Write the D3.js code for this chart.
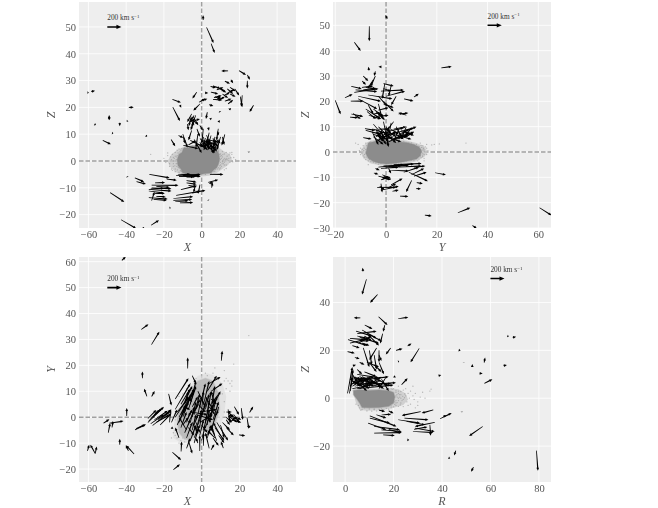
<!DOCTYPE html>
<html>
<head>
<meta charset="utf-8">
<script src="https://cdn.jsdelivr.net/npm/d3@7"></script>
<style>
  html, body { margin: 0; padding: 0; background: #fff; }
  svg { display: block; filter: blur(0.3px); }
  text { font-family: "Liberation Serif", serif; fill: #555; }
</style>
</head>
<body>
<svg id="fig" width="658" height="508"></svg>
<script>
// tick labels
const xTicksXZ = [-60, -40, -20, 0, 20, 40];
const zTicksXZ = [-20, -10, 0, 10, 20, 30, 40, 50];
const yTicksYZ = [-20, 0, 20, 40, 60];
const zTicksYZ = [-30, -20, -10, 0, 10, 20, 30, 40, 50];
const xTicksXY = [-60, -40, -20, 0, 20, 40];
const yTicksXY = [-20, -10, 0, 10, 20, 30, 40, 50, 60];
const rTicksRZ = [0, 20, 40, 60, 80];
const zTicksRZ = [-20, 0, 20, 40];

// velocity arrows: [x tail, y tail, x head, y head]
const arrowsXZ = [
  [0.8,52.6,0.8,54.4],[2.6,49.8,6.3,44],[5,43.8,6.9,40.3],[14,33.6,10.4,33.6],[19.8,33.7,23.5,32.1],[24.2,32.1,25.6,30.3],
  [24.2,29.9,24.2,27],[21.5,24.5,21,20.4],[20.5,24,21.5,20],[27.5,20.8,25.4,18.3],[-2.6,25.7,-4.9,23.3],[-15.5,23,-11,21.8],
  [-11.5,20.8,-10.8,19.9],[-15.3,20.1,-11.5,14.9],[-60.5,25.5,-59.8,25.5],[-58.5,25.9,-56.5,26.2],[-38.6,20,-36,20],
  [-49,17,-49,15.2],[-49,15.5,-49,17],[-56.8,13.7,-56,13.4],[-43.4,14.3,-43.4,13],[-39.2,15,-39.8,14.7],[-47.5,10.4,-46.8,10.3],
  [-29.5,9.5,-28.9,9],[-52.4,7.7,-48.1,6.2],[-39.3,-6,-39.6,-5.7],[-48.5,-11.8,-41,-15.3],[-42.7,-21.9,-34.7,-25.2],
  [-26.8,-24,-22.6,-22.1],[-31,-25,-30.5,-24.7],[-17,-17.5,-16.4,-17.4],[3.5,-14.5,3.7,-14.7],[25,3.4,25,3.2],
  // lower band
  [-27.7,-5,-17,-6.3],[-35.4,-6.3,-30.5,-7.8],[-34.5,-7.7,-29.5,-8.6],[-18.5,-6.8,-13.2,-7.2],[-24.7,-8.2,-19.4,-8],
  [-26.5,-9,-12.3,-9.1],[-26.5,-10,-16,-10.4],[-28,-10.6,-16,-11.2],[-28,-11.2,-20,-12],[-25,-12.2,-19.5,-12],
  [-28,-13.7,-18,-14.2],[-26.5,-14.8,-25,-11.5],[-25.5,-14.3,-18.5,-14.7],[-15,-14,-4.5,-13.3],[-13.5,-12.8,2,-11],
  [-15,-14.7,-5,-14.4],[-14,-15.2,-7,-14.8],[-11.5,-15.6,-4.5,-15.5],[-11,-10.7,-2.5,-9.2],[-8,-7.3,-2.7,-7.9],
  [-8,-8.2,-2.7,-8.7],[-7,-9.1,-2.7,-9.7],[-13.5,-5.4,-0.5,-5],[-12,-5.8,-1,-5.2],[-10,-5.4,-3,-5.9],[-8,-6,-1,-5.5],
  [-12.5,-5.2,-6,-4.9],[-12,-5.6,-4,-6],[-7,-5,-0.5,-5.9],[4.4,-5,11.5,-5],[3.5,-8,8.8,-7],[5.3,-10,5.8,-8],[-0.9,-8.8,-1.8,-12.2],[-3.5,-9.6,-4.3,-11.8],
  [-5,-12,-1,-11.3],[4,-8.4,6.2,-8],[-24,-9.5,-17,-9.8],[-27,-10.4,-20,-10.2],[-24,-13.2,-19,-13.4],
  // upper arc
  [4.7,27.8,7.6,27.3],[1.8,25.4,3.5,25.4],[4.9,25.7,8.8,25],[9.7,26.9,12.3,26],[12.3,29.8,15,28.8],[15.5,30.3,16.7,29],
  [13.6,26.9,16.7,25],[17.6,26.9,19.9,24.4],[6.5,23.6,10.6,24.4],[8.8,22.6,12.3,24],[12.3,22.3,15.8,23.2],[6,23,11,22.7],
  [14,21.3,16.7,22.8],[4,21,6.2,20.5],[0.5,22.6,3,23.2],[-1.4,21.9,1.8,23.2],[15,19.5,15.4,19.1],[14.6,19.2,15.2,19.6],
  [9.7,18.2,9.5,18.6],[-0.9,21.3,-4.4,18.8],[3,18.2,2.3,15.7],[4.7,16,4.9,15.2],[10,27,13,25.5],[8,26.5,11.5,27.5],
  [7,24,10,23],[8,24.2,10.5,23.2],[14,25.5,17,26.5],[15,25,18,24],[6,28,10,27],[11,25,14,23.5],[15,27.5,18,26],[12,24.5,15,25.5],
  // clump around Z = 15
  [-5.3,17.6,-7.6,14.5],[-3.2,17,-5.3,12.6],[-4.4,16.4,-1.8,13.3],[-6,15.7,-3.9,13.3],[-3.5,15.1,-0.9,15.7],[-1,13.3,0.7,11.4],
  [-5.5,16.5,-6.8,13],[-4.5,14,-5.8,11.5],[-7.5,13.8,-7,11.5],[-4,17,-6,15],[-3,14,-5,16],[-6.5,14.5,-4,15.5],
  // clump above the core
  [-5.3,11.4,-7,7.7],[-12.3,9.5,-9.7,8.7],[-9.7,9,-8.8,6.5],[-16.2,8,-14,5.5],[-9.7,5.8,-1.8,4.6],[-6,7.7,1,5.2],
  [0.9,12,0,6.4],[4,10.6,2.6,6.4],[8.8,12,7.9,7.7],[12.3,9.9,10.6,5.8],[7,9,6.2,4],[0.9,7.7,7.9,5.8],[2.6,9.6,6.2,2.8],
  [-0.9,8.4,4.4,4.6],[-4,8,0,3],[5,9.5,3,5],[10,9,8,4],[3,8,9,7],[-2,10,-3,5],[9,8,6,3],[2,6.5,7,3],[-7,6,-3,7.5],
  [-10,10,-7.5,5],[-1,6,5,7.5],[11,9,12,6],[3.5,12.5,3.9,11.3],[9,15,9.6,14.3],[8.5,11,9,9.5],[-2.5,12,-1,9],[6,4.5,7.5,8],
  [1,9,2,5],[0.5,6.5,3,4],[1.5,7.5,5,6.5],[3,7,6,5],[4,8,6,4.5],[5,7,8,6],[2,8.5,4,5.5],[0.5,8,1.5,4.5],[7,7,9,5],[6,6,8,3.5],
  [3,6.5,1,4],[5,6,3,4],[1,5.5,4,7],[-1,7,1,5],[8,8,10,6.5],[6,8.5,7,5.5]
];
const arrowsYZ = [
  [0.5,52.6,-0.3,54],[-6.6,49.6,-6.6,43.7],[-12.5,43.3,-10,39.9],[-6.7,32.2,-7,33.6],[-1.8,33.6,-3,33.6],[21.8,33.2,25.9,33.7],
  [-4.2,31.8,-4.7,30],[-20,20.4,-17.9,14.9],[11,21.7,12.9,23],[7.1,21,10.8,20.1],[4.9,15,8.8,15.4],[8,14.5,4.9,15.5],
  [-16.2,21.4,-13.2,22.8],[-13.7,25.9,-9.6,25],[-12,24.5,-3.5,23.8],[-13.9,20.1,-8.9,20.1],[-14.2,13.8,-11,13.5],[-13.7,15,-9,14],
  [-9,5.7,-5.7,5.1],[-8.3,9.2,-4.3,8.5],[19.3,-8.2,23.6,-9],[28.3,-24,33.2,-22],[15.3,-24.9,18,-25.3],[60.5,-22,65.2,-25],
  [34,-29,35.8,-30.2],[10.1,-11.2,7.9,-15.8],[5.5,-17.4,8.8,-17.6],[11.8,-14.5,13.8,-14.5],[12.1,-12.1,14.5,-12.5],
  // upper group
  [-9,30,-7,28],[-4.2,30,-6,26],[-9.4,28,-7.9,26.5],[-5,28.5,-7.2,25],[-9.5,25.5,-5,26],[-9,24.5,-4,25.2],[-1,27,3,26],
  [-1,25,2,24],[-12.5,23.5,-3,25],[-2,24,7,24.5],[0,22,7.5,24],[-7,22.5,2.5,21],[-11,22,-2,20],[4,22,2,18.5],[2,26,1,22],
  [-0.5,27,-1.5,21],[-3,22,0.5,18],[-11,21,-3.5,17],[-1,20,3,16],[-8,17,-2,13],[-5,17,-1,14],[-7,18.5,-5,15],[-3,19,-1.5,13],
  [-2.5,15,-0.5,12.5],[-4,14,1,14.5],[-7.5,16,-4,13],[-3,16.5,1,17.5],[-13,15.2,-10,13],[-6.8,14.5,-2,13],[-1,19,3,17.5],
  [-8,25.5,-4,25],[-3,15.5,-1,14],[-4,16,-2,14],[-5,15,-2,15.5],
  // clump above the core
  [-8,8.5,-2,7],[-5,11,1,4],[-3,8,0,3],[-5,9,1,7],[-1,12,1,2],[1,10,0.5,2.5],[0,8,7,9.5],[3,12,0,8],[2,11.5,1,6],
  [2,7,11,9.5],[4,5,11,8],[2,5,9,6.5],[5,7,12,10],[3,9,8,10],[-5,6,-1,3],[-3,5,4,8],[0,6,6,4],[-3,10,2,5],[4,10,6,6],
  [-4,4,1,7],[5,9,3,4],[8,10,6,5],[10,9.5,7,5.5],[-1,8,4,3.5],[-5.5,8,-3,2.8],[6,8.5,11,6.5],[3,7,10,5],[1,4,6,6.5],
  [-4,9,-2,5],[-3,7,0,5],[-4,6,-1,8],[-2,6,1,8],[-3,9,1,9],[1,6,4,8],[1,8,4,6],[3,5,7,7],[5,5,9,8],[6,7,9,9],[7,8,10,7],
  [8,6,11,8],[2,9,5,7],[-1,5,3,6],[-2,9,-1,5],[0,10,2,7],[4,7,7,5],[-5,7,-2,6],[-4,8,-1,4],
  // below the core
  [-3,-6,7,-5],[-1,-5.5,6,-5.5],[1,-5.7,11,-4.7],[3,-5,14,-4.5],[5,-6,14,-5.5],[-2,-6.5,5,-6],[11,-6,15.5,-5.5],[0,-6,9,-5.2],
  [9,-8,16.5,-11.5],[7,-8,13,-6],[10,-9,15,-6.5],[11,-9.5,16,-8],[2,-7.2,9,-7.5],[-4.2,-6.5,-2.5,-7.2],[-4.8,-8.3,-3,-8.8],
  [-3,-9.5,0.5,-10.5],[-1.5,-10,2,-11],[-2,-11,1,-10],[-1.5,-9,2,-10.5],[-1.5,-10.8,1,-9.5],[-1,-9.5,1.5,-11],[2,-13,6.5,-10.5],[1,-14,4,-12.5],[-3.5,-14,4,-14],
  [-1.5,-15,5,-13.5],[-2,-12.5,-1.5,-16],[-2.5,-13.5,-0.5,-15],[2.5,-15.5,5,-15],[1,-6.5,2,-8.5]
];
const arrowsXY = [
  [-42.3,60.5,-40.2,61.9],[-32,33.8,-28.2,35.9],[-26.6,28,-22.4,33],[-31.4,15,-31.4,17.6],[-29,8,-30.5,11],[-26.5,8,-24.9,10.1],
  [-39.7,0.5,-39.7,3.5],[-7.4,18.8,-7.4,23],[10.4,21.8,10.9,25.6],[-52,-2.3,-48.9,-0.8],[-48.9,-2.3,-41.4,-1.5],
  [-49.5,-6,-48.5,-2.3],[-47.5,-4,-47,-1.5],[-43.4,-10.6,-43.4,-8.3],[-35.8,-14.2,-40,-10.9],[-38.8,-13,-40.2,-10.8],
  [-60.5,-13,-59.6,-10.6],[-56.4,-14,-59,-10.6],[-56.4,-14,-55.6,-11.3],[-35.3,-4.9,-29.5,-2.7],[-34.8,-4.4,-30,-2.9],
  [-15.5,-13.5,-10.9,-16.5],[-15,-20.3,-11.5,-18.2],[-10.9,-13.2,-10.6,-9.4],[5,-12.6,6.7,-10.4],[11.5,-11.9,10.2,-9.4],
  [19.8,-6.8,23.1,-7.2],[25.4,1.8,27.3,4.1],[24,0,25,-4.5],[25.5,-4,24.5,-3],[17.3,4.1,19.8,0.9],[21,3.5,21.8,-1],
  // left wing
  [-28.5,-2,-20,4],[-28,-1.5,-23,2.5],[-28.5,-0.5,-24,2.8],[-26,-3.2,-17,2],[-25,-1,-18,2.5],[-22,-3,-16,1.5],[-26,0,-21,3.5],
  [-17,-2,-16.5,3],[-17.5,9,-16,4.5],[-16,-4,-15,-4.5],[-24,-2,-17,1],[-21,0,-16,3],[-27,-2.5,-20,1],[-23,-1,-16,2.8],[-25,1,-22,3],
  // central mass
  [-14,7,-7,15],[-14,3,-6,13],[-10,2,-4,10],[-14,0,-7,8],[-13,2,-5,9],[-12,0,-4,11],[-11,5,-6,11],[-12,-2,-8,5],[-10,0,-6,8],
  [-9,6,-5,12],[-7,3,-3,12],[-7,-2,-2,5],[-8,-8,-5,-2],[-11,-4,-8,2],[-13,-3,-9,3],[-6,5,-3,14],[-5,16,-3,13],[-2,-3,2,5],
  [-3,-5,0,3],[-4,1,-1,9],[-1,4,2,13],[0,0,3,8],[2,-2,4,6],[3,1,5,10],[1,5,4,14],[4,-2,7,7],[5,3,7,12],[3,10,8,16],[4,13,10,15.5],
  [5,10,11,13],[5,3,10,10],[6,-1,9,6],[2,-4,5,2],[-6,-9,-3,-3],[-4,-10,-2,-5],[-9,-6,-6,-1],[-5,-5,-3,1],[0,-9,2,-3],[-1,-7,1,-1],
  [3,-8,5,-3],[-1,-13,-1,-7],[1,-11,1,-6],[-2,-10,-3,-8],[-8,-12,-6,-8],[-7,-9,-5,-14],[-4,-8,-1,-3],[7,-7,5,-3],[4,-12,2,-6],
  [8,-9,5,-4],[10,-7,6,-2],[6,-8,9,-11],[7,-4,12,-9],[8,-2,14,-9],[-16,-2,-13,3],[-12,-8,-14,-4],[-8,-5,-12,0],[7,-8,3,-5],
  [-1,2,8,3],[-3,1,6,-1],[-6,2,3,1],[-1,-2,6,1],[5,-5,8,2],[2,8,6,3],[9,4,8,1],[-2,10,2,4],[9,9,5,5],[-5,-2,-2,-6],
  [-10,4,-6,3],[-8,8,-5,6],[-9,2,-7,6],[-6,-2,-4,4],[-5,0,-3,6],[-3,3,-1,7],[-1,-4,0,2],[1,-5,3,1],[3,-3,4,3],[5,0,6,5],[6,2,8,8],
  [7,5,5,10],[2,3,4,9],[0,3,1,10],[-2,1,0,8],[-7,0,-5,3],[-4,-3,-2,1],[-8,-2,-6,2],[-10,-3,-7,0],[-11,1,-8,5],[0,-3,3,-6],[2,1,5,-2],
  [4,4,7,1],[-2,5,2,2],[5,7,8,5],[-3,-2,-1,-6],[-7,-4,-4,-7],[-5,4,-2,8],[-9,5,-7,10],[6,-3,3,-7],
  // right group
  [9,-7,12,-10],[10,-3,12,-8],[11,-2,15,-5],[13,-4,17,-7],[13,0,16,-2],[14,3,15,-2],[14,2,17,0],[15,1,19,-1],[16,-1,21,-2],[15,0,19,-2],
  [14,0,16,1],[13,2,16,2],[18,0,21,-1],[14,-1,17,1],[15,-2,18,0],[13,-1,15,-3],[17,1,20,-2]
];
const arrowsRZ = [
  [7.4,53,7.2,54.5],[8.8,49.7,7,43.3],[13.4,43.3,10.3,39.9],[6.3,33.6,3.6,33.6],[13.8,34,17.5,30.6],[21.9,33.2,26.1,33.8],
  [16.4,30.6,15.7,27.8],[15.5,27,14.5,22.9],[8.1,30.6,11.3,28.9],[18.8,21,16.8,18.3],[21,20,23.7,20.7],[25.8,21.8,27.4,22.9],
  [30.6,20.8,27,15],[21.9,15.3,22.3,15.5],[67,26,67.6,25.8],[69.2,25.4,70.6,25.7],[46.9,20.1,47.7,19.9],[49,14.9,49,15],
  [52.5,13,52.5,14.3],[57.4,14.9,57.8,17],[55.5,10.4,56.8,10.3],[65.4,13.6,66.8,13.9],[38.6,9.4,39.7,9.7],[57.5,6.2,60.8,7.9],
  [23.3,5.6,25.8,8.3],[20.4,8.7,20.4,9.6],[48.2,-5.7,48.2,-5.9],[39.2,-8.6,44,-6.2],[40.5,-7.6,42,-7.2],[56.8,-11.8,51.2,-15.8],
  [45.7,-21.9,45,-23.9],[42.7,-24.9,43.4,-25.2],[53,-28.8,52,-30.7],[79,-21.9,79.6,-30.3],[25.7,-17.4,26.5,-17.5],
  // lower band
  [36.4,-4.9,31.6,-6.2],[31.2,-5.6,23.4,-7.2],[37,-10.1,28.8,-11.8],[21.9,-9,30.9,-10.4],[24.5,-8.3,34.4,-9],[25.4,-9.7,33,-11.1],
  [28.8,-12.5,37,-13.9],[28,-13.9,36.4,-14.3],[35,-11.1,35.3,-15.7],[28.5,-13,34,-12],[10.2,-7.4,21.2,-11.8],[9.5,-10.4,17,-13.2],
  [10.2,-8.3,18.5,-10.4],[12.9,-6.9,17,-8.3],[12,-11.8,22.6,-13.2],[15,-13.2,23.4,-13.9],[12,-14.6,23.4,-14.3],[15.7,-15.3,20.5,-15.6],
  [18,-13,23,-14.5],[15,-7,19,-6.7],[14,-5,16.5,-5.5],[18,-5.3,20,-6.3],
  // main clump
  [1,2,3,13],[1.8,2,3.3,12],[2.2,3,3,9],[2,8,11,8.5],[3,6,12,9],[4,5,12,7],[3,9,8,7],[5,10,14,8.5],[3,7,18,9],[5,4,20,5.5],
  [6,6,19,6],[7,9,15,5],[9,5,15,9],[4,8,10,4],[10,8,16,4],[6,8,13,6],[3,4,11,5.5],[8,11,13,9],[12,9,18,5],[13,6,21,6.5],
  [2,5,6,9],[5,7,9,3],[3,10,6,5],[15,8,18,3],[17,9,14,4],
  [3,7,7,5],[4,9,8,6],[5,5,9,8],[6,9,10,7],[7,5,11,7],[8,7,12,5],[9,9,13,6],[10,6,14,7],[11,5,15,6],[3,5,6,7],[4,6,7,8],[6,4,10,6],[7,8,11,6],[12,8,15,7],[2,8,5,6],
  // upper clump
  [4.5,28,11,26],[5,27,13,28],[1.2,24.5,9,22],[2,23,10,25],[2,25,8,24.5],[6,25.5,14,23],[7,28.5,13,25],[9,27,14,22],[5.5,23,11,26],
  [1,19.5,4,18.8],[4,17,6,16.5],[3.2,13.5,4.5,14],[7.5,21,10,13],[10,20,11,14],[9,15,14,13],[12,18,13,12],[14,18,15,15.5],[14,20,14,15],
  [13,21,10,16],[10,15,13,11],[12,14,15,11],[14,15,16,10],[6,15,8,14],[5,12,7,10],[11,26,15,24],[3,22,6,21],
  [5,26,9,25],[6,24,10,24],[8,26,11,24],[7,23,10,22]
];

// dense grey core, outline: x values then y values
const coreXZx = [-13, -12, -10.5, -9.5, -7, -5, -2, 1, 4, 6, 8, 9, 9.5, 9, 8, 6.5, 5, 2, -1, -4, -7, -10, -11, -12.5];
const coreXZy = [0.5, 2.5, 3.2, 4.8, 5, 5.6, 5.5, 6, 5.5, 5, 4, 3, 1, -1, -2.5, -3.3, -4.5, -4.7, -5, -5.2, -5, -4.5, -3, -1.8];
const coreYZx = [-7.5, -7, -5, -2, 1, 4, 8, 11, 13, 14, 13.5, 12, 9, 6, 3, 0, -3, -5, -7, -8];
const coreYZy = [1.5, 3.5, 4, 4.7, 4.5, 4, 3.7, 3, 2, 0.5, -1.5, -2.8, -3.5, -4, -4.5, -4.7, -4.3, -3.8, -2.5, -0.5];
const coreXYx = [-13, -12, -9, -5, -2, 2, 6, 9, 9.5, 7, 4, 0, -3, -6, -9, -12];
const coreXYy = [-1, 2, 7, 11, 14, 15, 14, 9, 3, -3, -5, -5, -6.5, -8.5, -8.5, -6];
const coreRZx = [3.5, 6, 10, 14, 18, 20, 20.5, 20, 18, 14, 10, 7, 6, 5, 3.5];
const coreRZy = [3.2, 3.5, 3.2, 3.4, 3.1, 2.4, 0.5, -2, -3.4, -3.9, -4, -3.9, -2, -0.5, 1.5];

// thinner grey halo round each core
const haloXZx = [-18, -16, -14, -12, -9, -5, 0, 5, 9, 12, 15, 16, 14, 11, 8, 4, 0, -5, -10, -14, -17];
const haloXZy = [0, 2.5, 3.5, 4.5, 5.5, 6, 6, 6, 5, 3.5, 2.5, 0.5, -1.5, -3, -4.5, -5.5, -5.8, -5.8, -5.5, -4, -2];
const haloYZx = [-10, -8, -6, -2, 3, 8, 12, 15, 16.5, 15, 12, 8, 3, -2, -6, -9];
const haloYZy = [0.5, 3.5, 4.5, 5.3, 5.2, 4.5, 3.5, 2.3, 0, -2, -3.7, -4.6, -5.2, -5.3, -4.5, -2.5];
const haloXYx = [-15, -14, -10, -6, -2, 3, 7, 11, 13, 12, 9, 5, 0, -4, -8, -12, -15];
const haloXYy = [-5, 1, 8, 12, 16, 17, 16, 13, 8, 1, -5, -7, -7, -9, -10, -9.5, -8];
const haloRZx = [3, 6, 12, 18, 22, 25, 26, 24, 20, 15, 9, 6, 4.5];
const haloRZy = [3.5, 4.2, 4, 4.2, 3.8, 2, -0.5, -2.8, -4, -5, -5.2, -4.8, -2];

// loose grey dots round the core
const dotsXZ = [[-18,2],[-17,-1],[-16,0.5],[-15.5,2.5],[-15,-2],[-14.5,1],[-14,-3],[-14,3.2],[-13.5,-1],[-16,-3],[-18,3],[-20,1],[-27,2.5],
  [-19,-0.5],[-13,4],[-12,4.5],[-11,-3.8],[-12,-4.2],[-10,-5],[-9,5],[-7,-4.8],[-5,5.5],[-4,-5],[-1,5.5],[2,-5],[5,-4.6],[6,5],[7,-3.8],
  [8,4.6],[9,3.5],[9.5,-3],[10,2.6],[10.5,-2],[11,1.5],[11.5,-1],[12,2.6],[12.5,0.5],[13,-1.5],[13.5,1.8],[14,0.2],[14.5,2.3],[15,-0.5],
  [15.5,1.2],[16,2.5],[16.5,-0.3],[17,1.3],[18,0.5],[15,3],[11,3.5],[13,-2.8],[12,-3.3],[-17,-2],[-15.5,-3.5],[-14,-4],[16,3.2],[13,3.2],
  [-13,2],[-15,0],[-16.5,1.5],[10,-2.6],[10,0.5],[11,0],[12,1],[9.5,0.8],
  [-13.5,0.5],[-13,-1],[-13.4,1.5],[-12.5,3],[-11.5,3.4],[-11,4],[-10.5,4.6],[-12.4,-2.5],[-11.6,-2.6],[-11.3,-3.5],[-10.6,-3.8],[-10.5,-4.8],
  [-13.2,-2],[-14,0],[-14,1.8],[-15,1.3],[-12.8,-3.3],[-15,-1],[-14.2,-1.8],[10,-0.5],[10.5,1],[10,1.8],[10.8,-1],[10.5,2],[11,-0.3],[10,-1.5],
  [9.5,-1.8],[9.5,2.5],[11.5,0.5],[12,-0.5],[12,-1.5],[11.2,2.4],[9,-2.5],[8.5,-3],[7.5,-3.2],[6.5,-4],[13,0.5],[13,1],[13.6,0.7],[14.4,1],[9,4],[7,4.8]];
const dotsYZ = [[-11,3],[-10,1.5],[-9.5,-0.5],[-9,2.5],[-8.5,-2],[-8,3.5],[-8,-3],[-7,-3.5],[-6,4],[-5,-4],[-3,-4.8],[-1,5],[1,-4.5],[3,4.8],
  [4,-4.4],[6,4],[7,-3.8],[9,3.6],[10,-3.2],[11,2.8],[12,-2.5],[13,2.3],[13.5,-1.5],[14,1.8],[14.5,-0.5],[15,0.8],[15.5,2],[16,-1],[13.5,3.5],
  [14.5,2.5],[16,3],[18,2.8],[19,3],[21,3.2],[31.5,3.5],[15,-2.5],[12.5,-3.5],[-10,-1],[-10.5,0.5],[-12,3.5],[-7,-5],[-8,1],[15,-3.5],[14,0],
  [15,0.3],[13.5,1],[12,-1.5],
  [-8.8,0.5],[-8.6,1.5],[-8.5,-1],[-9,-1.5],[-7.6,2.5],[-7.8,-2],[-9.4,1],[-6.5,3.8],[-6.5,-3],[-6,-3.8],[-4,-4.4],[-2,-4.6],[2,-4.8],[5,-4.4],[8,-3.6],
  [14.5,0.8],[14.8,1.3],[15,-1],[14.4,-1.2],[13.8,-2.2],[14.4,-1.8],[13,-2.8],[11,-3.4],[12,3],[10,3.6],[7,4.2],[5,4.4],[13.8,2.6],[14.6,1.6],[16.5,0.5],[16,1.5]];
const dotsXY = [[-16,-8],[-15,-6],[-14,-5],[-13,-8],[-11,-9],[-9,-9.5],[-14,-1],[-12,8],[-10,9],[-8,11],[-6,13],[-3,15],[0,16],[2,17],[3,16],
  [6,17],[7,15],[9,15],[10,13],[12,14],[13,15],[14,14],[15,13],[16,12],[16,14],[15,10],[17,20.5],[12,18],[7,19],[25,31.5],[13,11],[11,9],[12,6],
  [12,2],[-14,-7],[-12,-10],[-10,-8],[-7,-10]];
const dotsRZ = [[20,4],[21,2.5],[21.5,0.5],[22,-1],[22,3],[23,-2],[23,1.5],[24,-0.5],[24,3.4],[25,1],[25.5,-1.5],[26,2],[26.5,0],[27,-2.5],[27,3],
  [28,1],[28.5,-0.5],[29,2],[30,-1.5],[31,0.5],[32,2.5],[35,3],[35.5,3.8],[30,-3],[26,-3],[24,-3.5],[22,-3.4],[21,-3],[19,-4],[17,-4.2],[15,-4.5],
  [12,-4.5],[10,-4.5],[8,-4],[6,-4],[5.5,-3],[4.5,-2.5],[19,4],[22,5],[25,4],[28,5],[29,-4],[33,0],[20.5,-1.5],[20.5,0.5],[21,1],[22.5,0.5],[23.5,-1],
  [21,-1],[21.4,1.5],[21,-2],[20.5,-2.6],[21.5,-1.8],[22,0],[22.4,1.5],[23,0],[22,2],[21,3.2],[19.5,3.8],[18,3.8],[16,4],[14,4],[12,-4.8],[14,-4.6],[16,-4.8],
  [18,-4.6],[20,-3.6],[19,-3.2],[9,-5.3],[11,-5.4],[13,-5.3],[7,-4.8],[6.5,-5],[23.8,0.8],[24.5,0.2],[24.6,1.8],[23,2.8],[22.8,-2.8]];

const panels = [
  { arrows: arrowsXZ, coreX: coreXZx, coreY: coreXZy, haloX: haloXZx, haloY: haloXZy, dots: dotsXZ, xDomain: [-65, 50], yDomain: [-25, 59.3], xTicks: xTicksXZ, yTicks: zTicksXZ,
    xLabel: "X", yLabel: "Z", left: 79, right: 296, top: 2, bottom: 228, key: [-50, 50, -42.5, 50], zero: true, coreFill: "#8c8c8c", haloFill: "#c6c6c6" },
  { arrows: arrowsYZ, coreX: coreYZx, coreY: coreYZy, haloX: haloYZx, haloY: haloYZy, dots: dotsYZ, xDomain: [-20.9, 65], yDomain: [-30, 59.2], xTicks: yTicksYZ, yTicks: zTicksYZ,
    xLabel: "Y", yLabel: "Z", left: 333, right: 551, top: 2, bottom: 228, key: [40, 50, 45.6, 50], zero: true, coreFill: "#8c8c8c", haloFill: "#c6c6c6" },
  { arrows: arrowsXY, coreX: coreXYx, coreY: coreXYy, haloX: haloXYx, haloY: haloXYy, dots: dotsXY, xDomain: [-65, 50], yDomain: [-25, 61.8], xTicks: xTicksXY, yTicks: yTicksXY,
    xLabel: "X", yLabel: "Y", left: 79, right: 296, top: 257, bottom: 482, key: [-50, 50, -42.5, 50], zero: true, coreFill: "#bcbcbc", haloFill: "#dedede" },
  { arrows: arrowsRZ, coreX: coreRZx, coreY: coreRZy, haloX: haloRZx, haloY: haloRZy, dots: dotsRZ, xDomain: [-5, 85], yDomain: [-35, 59], xTicks: rTicksRZ, yTicks: zTicksRZ,
    xLabel: "R", yLabel: "Z", left: 333, right: 551, top: 257, bottom: 482, key: [60, 50, 65.8, 50], zero: false, coreFill: "#8c8c8c", haloFill: "#c6c6c6" }
];

const svg = d3.select("#fig");

// tapered arrow outline in pixels, like a quiver glyph
function arrowPath(x0, y0, x1, y1, wTail, w, headLen, headW) {
  const dx = x1 - x0, dy = y1 - y0;
  const len = Math.hypot(dx, dy) || 1;
  const ux = dx / len, uy = dy / len;
  const nx = -uy, ny = ux;
  const hl = Math.min(headLen, len);
  const bx = x1 - ux * hl, by = y1 - uy * hl;
  const p = [
    [x0 + nx * wTail / 2, y0 + ny * wTail / 2], [bx + nx * w / 2, by + ny * w / 2], [bx + nx * headW / 2, by + ny * headW / 2],
    [x1, y1],
    [bx - nx * headW / 2, by - ny * headW / 2], [bx - nx * w / 2, by - ny * w / 2], [x0 - nx * wTail / 2, y0 - ny * wTail / 2]
  ];
  return d3.line()(p) + "Z";
}

panels.forEach((p, i) => {
  const x = d3.scaleLinear().domain(p.xDomain).range([p.left, p.right]);
  const y = d3.scaleLinear().domain(p.yDomain).range([p.bottom, p.top]);

  svg.append("clipPath").attr("id", "clip" + i).append("rect")
    .attr("x", p.left).attr("y", p.top).attr("width", p.right - p.left).attr("height", p.bottom - p.top);

  svg.append("rect")
    .attr("x", p.left).attr("y", p.top).attr("width", p.right - p.left).attr("height", p.bottom - p.top)
    .attr("fill", "#eeeeee");

  // grid
  svg.append("g").selectAll("line").data(p.xTicks).enter().append("line")
    .attr("x1", d => x(d)).attr("x2", d => x(d)).attr("y1", p.top).attr("y2", p.bottom)
    .attr("stroke", "#fff").attr("stroke-width", 0.8);
  svg.append("g").selectAll("line").data(p.yTicks).enter().append("line")
    .attr("x1", p.left).attr("x2", p.right).attr("y1", d => y(d)).attr("y2", d => y(d))
    .attr("stroke", "#fff").attr("stroke-width", 0.8);

  const plot = svg.append("g").attr("clip-path", "url(#clip" + i + ")");

  // zero lines, the R-Z panel has none
  if (p.zero) {
    plot.append("line").attr("x1", p.left).attr("x2", p.right).attr("y1", y(0)).attr("y2", y(0))
      .attr("stroke", "#a0a0a0").attr("stroke-width", 1.4).attr("stroke-dasharray", "4.5,2");
    plot.append("line").attr("x1", x(0)).attr("x2", x(0)).attr("y1", p.top).attr("y2", p.bottom)
      .attr("stroke", i === 1 ? "#777" : "#a0a0a0").attr("stroke-width", i === 1 ? 1 : 1.4).attr("stroke-dasharray", "4.5,2");
  }

  // grey stars
  const blob = d3.line().curve(d3.curveLinearClosed).x(d => x(d[0])).y(d => y(d[1]));
  plot.append("path").attr("d", blob(d3.zip(p.haloX, p.haloY)))
    .attr("fill", p.haloFill).attr("fill-opacity", 0.75);
  plot.append("g").selectAll("circle").data(p.dots).enter().append("circle")
    .attr("cx", d => x(d[0])).attr("cy", d => y(d[1])).attr("r", 0.65)
    .attr("fill", "#9a9a9a").attr("fill-opacity", 0.7);
  plot.append("path").attr("d", blob(d3.zip(p.coreX, p.coreY)))
    .attr("fill", p.coreFill).attr("stroke", p.coreFill).attr("stroke-opacity", 0.4).attr("stroke-width", 1.5);

  // arrows
  plot.append("g").selectAll("path").data(p.arrows).enter().append("path")
    .attr("d", d => arrowPath(x(d[0]), y(d[1]), x(d[2]), y(d[3]), 0.7, 1.25, 3, 2.7))
    .attr("fill", "#000");

  // key arrow
  plot.append("path")
    .attr("d", arrowPath(x(p.key[0]), y(p.key[1]), x(p.key[2]), y(p.key[3]), 1.6, 1.6, 5, 4.2))
    .attr("fill", "#000");
  const keyText = svg.append("text").attr("x", x(p.key[0])).attr("y", y(p.key[1]) - 6.5)
    .attr("font-size", 7.3).style("fill", "#333");
  keyText.append("tspan").text("200 km s");
  keyText.append("tspan").attr("dy", -2.5).attr("font-size", 5).text("\u22121");

  // axes
  const fmt = d => String(d).replace("-", "\u2212");
  const xAxis = d3.axisBottom(x).tickValues(p.xTicks).tickSize(0).tickPadding(2.5).tickFormat(fmt);
  const yAxis = d3.axisLeft(y).tickValues(p.yTicks).tickSize(0).tickPadding(3).tickFormat(fmt);
  const gx = svg.append("g").attr("transform", "translate(0," + p.bottom + ")").call(xAxis);
  const gy = svg.append("g").attr("transform", "translate(" + p.left + ",0)").call(yAxis);
  gx.select(".domain").remove();
  gy.select(".domain").remove();
  gx.selectAll("text").attr("font-size", 10.5).attr("font-family", null);
  gy.selectAll("text").attr("font-size", 10.5).attr("font-family", null);

  svg.append("text").attr("x", (p.left + p.right) / 2).attr("y", p.bottom + 22.5)
    .attr("text-anchor", "middle").attr("font-size", 12).attr("font-style", "italic").text(p.xLabel);
  svg.append("text").attr("transform", "translate(" + (p.left - 24.5) + "," + ((p.top + p.bottom) / 2) + ") rotate(-90)")
    .attr("text-anchor", "middle").attr("font-size", 12).attr("font-style", "italic").text(p.yLabel);
});
</script>
</body>
</html>
